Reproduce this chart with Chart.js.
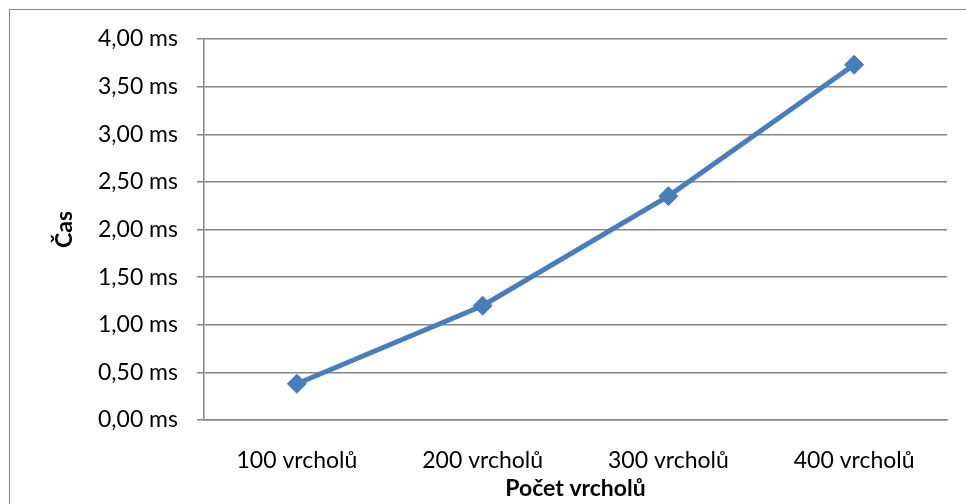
<!DOCTYPE html>
<html>
<head>
<meta charset="utf-8">
<script src="https://cdn.jsdelivr.net/npm/chart.js@4"></script>
<style>
  body { margin: 0; background: #fff; }
</style>
</head>
<body>
<canvas id="graph" width="966" height="504"></canvas>
<script>
var labels = ["100 vrcholů", "200 vrcholů", "300 vrcholů", "400 vrcholů"];
var times = [0.38, 1.20, 2.35, 3.73];
var yTicks = [0, 0.5, 1, 1.5, 2, 2.5, 3, 3.5, 4];

var gray = "#868686";
var fontFamily = "Lato, 'Noto Sans', sans-serif";

var frame = {
    id: "frame",
    beforeDraw: function(chart) {
        var c = chart.ctx;
        c.save();
        c.fillStyle = "#fff";
        c.fillRect(0, 0, chart.width, chart.height);
        c.strokeStyle = gray;
        c.lineWidth = 1;
        c.strokeRect(9.5, 9.5, 966, 504);
        c.restore();
    }
};

document.addEventListener("DOMContentLoaded", function() {
    var ctx = document.getElementById("graph").getContext("2d");

    new Chart(ctx, {
        type: "line",
        data: {
            labels: labels,
            datasets: [{
                data: times,
                fill: false,
                borderColor: "#4A7EBB",
                borderWidth: 5,
                pointStyle: "rectRot",
                pointRadius: 9.5,
                pointBackgroundColor: "#4A7EBB",
                pointBorderColor: "#4A7EBB",
                pointBorderWidth: 1,
                tension: 0
            }]
        },
        options: {
            responsive: false,
            animation: false,
            layout: { padding: { left: 0, top: 39, right: 19, bottom: 0 } },
            plugins: { legend: { display: false }, tooltip: { enabled: false } },
            scales: {
                x: {
                    offset: true,
                    grid: { display: false, drawTicks: false },
                    border: { display: true, color: gray, width: 1.5 },
                    ticks: { color: "#000", padding: 27, font: { family: fontFamily, size: 23 } },
                    title: {
                        display: true, text: "Počet vrcholů", color: "#000",
                        font: { family: fontFamily, size: 23, weight: "bold" },
                        padding: { top: 0, bottom: 2 }
                    },
                    afterFit: function(s) { s.height = 84; }
                },
                y: {
                    min: 0,
                    max: 4,
                    afterBuildTicks: function(s) {
                        s.ticks = yTicks.map(function(v) { return { value: v }; });
                    },
                    grid: { color: gray, lineWidth: 1.5, tickLength: 7 },
                    border: { display: true, color: gray, width: 1.5 },
                    ticks: {
                        color: "#000", padding: 19,
                        font: { family: fontFamily, size: 23 },
                        callback: function(v) { return v.toFixed(2).replace(".", ",") + " ms"; }
                    },
                    title: {
                        display: true, text: "Čas", color: "#000",
                        font: { family: fontFamily, size: 23, weight: "bold" },
                        padding: { top: 51, bottom: 0 }
                    },
                    afterFit: function(s) { s.width = 204; }
                }
            }
        },
        plugins: [frame]
    });
});
</script>
</body>
</html>
